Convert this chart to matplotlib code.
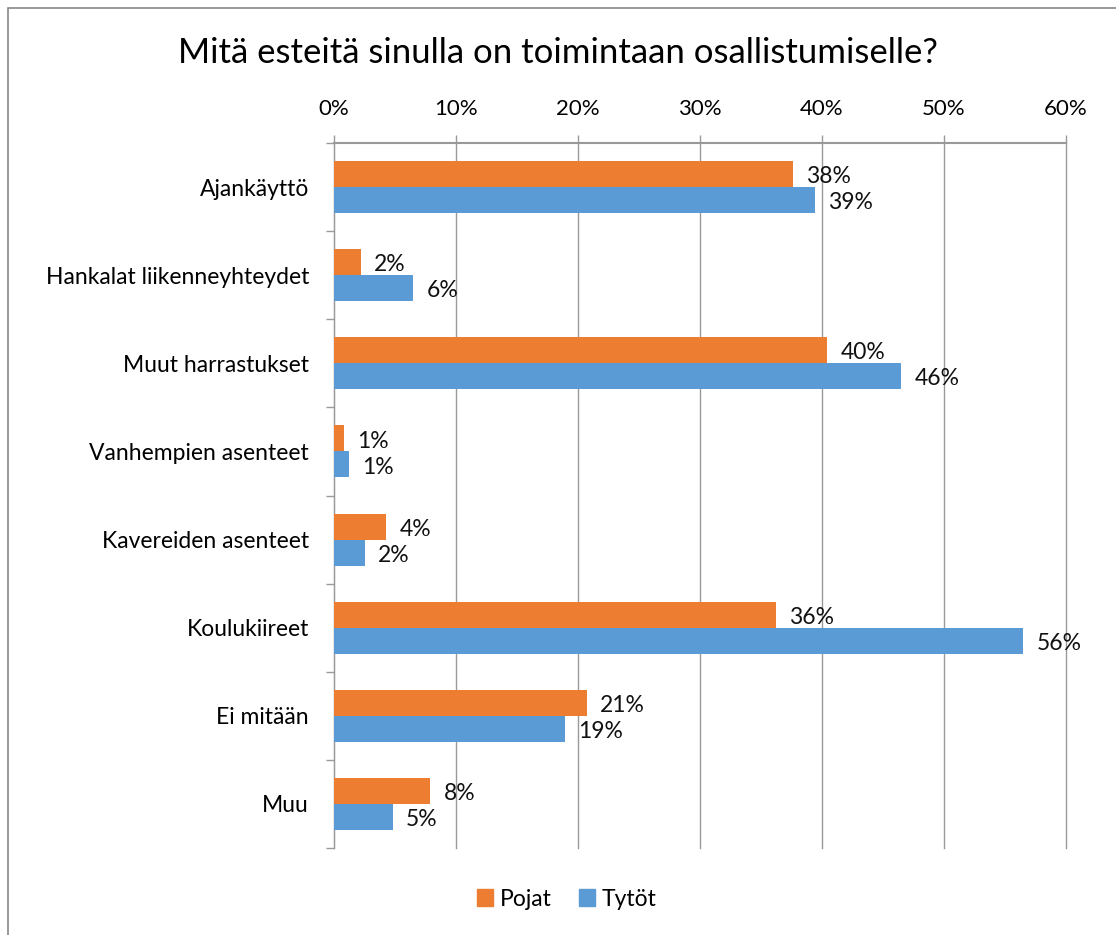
import matplotlib
matplotlib.use("Agg")
from matplotlib import pyplot as plt
from matplotlib.ticker import PercentFormatter
import matplotlib.patches as mpatches
import numpy as np

categories = [
    "Ajankäyttö",
    "Hankalat liikenneyhteydet",
    "Muut harrastukset",
    "Vanhempien asenteet",
    "Kavereiden asenteet",
    "Koulukiireet",
    "Ei mitään",
    "Muu",
]
pojat = [37.6, 2.2, 40.4, 0.8, 4.3, 36.2, 20.7, 7.9]
tytot = [39.4, 6.5, 46.5, 1.2, 2.5, 56.5, 18.9, 4.8]
pojat_labels = ["38%", "2%", "40%", "1%", "4%", "36%", "21%", "8%"]
tytot_labels = ["39%", "6%", "46%", "1%", "2%", "56%", "19%", "5%"]

orange = "#ED7D31"
blue = "#5B9BD5"
font = ["Lato", "DejaVu Sans"]
plt.rcParams["font.family"] = font

fig = plt.figure(figsize=(11.16, 9.35), dpi=100)
fig.patches.append(mpatches.Rectangle((8 / 1116, -0.01), 1.1, 1 - 8 / 935 + 0.01,
                                      transform=fig.transFigure, fill=False,
                                      edgecolor="#888888", linewidth=1.2))
ax = fig.add_axes([334 / 1116, 1 - 848 / 935, 732 / 1116, 705 / 935])

y = np.arange(len(categories))
h = 0.295
ax.barh(y - h / 2, pojat, height=h, color=orange, label="Pojat", zorder=3)
ax.barh(y + h / 2, tytot, height=h, color=blue, label="Tytöt", zorder=3)

for i in range(len(categories)):
    ax.text(pojat[i] + 1.1, y[i] - h / 2 + 0.03, pojat_labels[i], ha="left",
            va="center", fontsize=16.5, color="#111111")
    ax.text(tytot[i] + 1.1, y[i] + h / 2 + 0.03, tytot_labels[i], ha="left",
            va="center", fontsize=16.5, color="#111111")

ax.set_xlim(0, 60)
ax.set_ylim(len(categories) - 0.5, -0.5)
ax.set_xticks(np.arange(0, 61, 10))
ax.xaxis.set_major_formatter(PercentFormatter(decimals=0))
ax.xaxis.tick_top()
ax.tick_params(axis="x", length=6, width=1, color="#999999", pad=11,
               labelsize=16, direction="out")
ax.grid(axis="x", color="#999999", linewidth=1, zorder=0)
for line in ax.get_xgridlines():
    line.set_clip_on(False)

ax.set_yticks(y)
ax.set_yticklabels(categories, fontsize=16.5)
ax.set_yticks(np.arange(-0.5, len(categories) + 0.5, 1), minor=True)
ax.tick_params(axis="y", which="major", length=0, pad=18)
ax.tick_params(axis="y", which="minor", length=6, width=1, color="#999999")

for side in ["right", "bottom"]:
    ax.spines[side].set_visible(False)
ax.spines["top"].set_color("#999999")
ax.spines["left"].set_color("#999999")
ax.spines["top"].set_linewidth(1.5)

fig.text(0.5, 1 - 53 / 935, "Mitä esteitä sinulla on toimintaan osallistumiselle?",
         ha="center", va="center", fontsize=25)

handles = [mpatches.Patch(color=orange), mpatches.Patch(color=blue)]
fig.legend(handles, ["Pojat", "Tytöt"], loc="center", bbox_to_anchor=(0.508, 1 - 899 / 935),
           ncol=2, frameon=False, fontsize=16.5, handlelength=0.7, handleheight=0.7,
           handletextpad=0.3, columnspacing=1.2)

fig.savefig("out.png", dpi=100)
